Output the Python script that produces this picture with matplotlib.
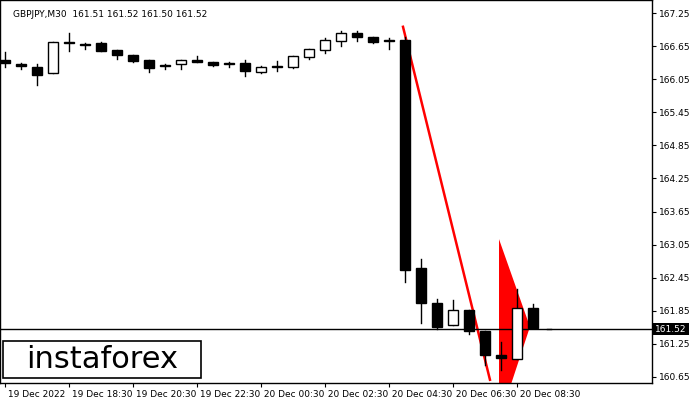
import matplotlib
matplotlib.use('Agg')
import matplotlib.pyplot as plt
from matplotlib.patches import Rectangle, Polygon

# candles, 30-minute bars (open, high, low, close)
opens  = [166.40, 166.33, 166.27, 166.16, 166.72, 166.67, 166.71, 166.58, 166.49, 166.40,
          166.29, 166.33, 166.40, 166.36, 166.33, 166.34, 166.18, 166.27, 166.27, 166.45,
          166.58, 166.74, 166.89, 166.82, 166.74, 166.76, 162.63, 161.99, 161.59, 161.86,
          161.48, 161.05, 160.98, 161.90, 161.52]
highs  = [166.54, 166.34, 166.33, 166.72, 166.89, 166.71, 166.72, 166.58, 166.49, 166.40,
          166.33, 166.40, 166.47, 166.36, 166.36, 166.40, 166.29, 166.38, 166.47, 166.60,
          166.80, 166.92, 166.92, 166.82, 166.80, 166.82, 162.79, 162.06, 162.05, 161.86,
          161.48, 161.28, 162.25, 161.97, 161.52]
lows   = [166.27, 166.23, 165.95, 166.16, 166.56, 166.60, 166.56, 166.42, 166.36, 166.18,
          166.23, 166.23, 166.36, 166.29, 166.27, 166.11, 166.16, 166.20, 166.25, 166.42,
          166.53, 166.65, 166.74, 166.71, 166.60, 162.37, 161.63, 161.52, 161.59, 161.43,
          160.87, 160.78, 160.98, 161.54, 161.52]
closes = [166.34, 166.29, 166.13, 166.72, 166.71, 166.67, 166.56, 166.49, 166.38, 166.25,
          166.29, 166.40, 166.36, 166.31, 166.33, 166.20, 166.27, 166.27, 166.47, 166.60,
          166.76, 166.89, 166.82, 166.72, 166.74, 162.59, 161.99, 161.56, 161.86, 161.48,
          161.05, 160.99, 161.90, 161.54, 161.52]

tick_idx = [0, 4, 8, 12, 16, 20, 24, 28, 32]
tick_labels = ["19 Dec 2022", "19 Dec 18:30", "19 Dec 20:30", "19 Dec 22:30", "20 Dec 00:30",
               "20 Dec 02:30", "20 Dec 04:30", "20 Dec 06:30", "20 Dec 08:30"]
price_ticks = [160.65, 161.25, 161.85, 162.45, 163.05, 163.65, 164.25, 164.85, 165.45,
               166.05, 166.65, 167.25]

# pattern overlay: pole line and flag
pole_x = [24.875, 30.31]
pole_y = [167.00, 160.60]
flag_x = [30.875, 32.81, 31.3, 30.875]
flag_y = [163.15, 161.56, 160.23, 160.23]
last_price = 161.52

fig = plt.figure(figsize=(7, 4), dpi=100)
ax = fig.add_axes([0, 17 / 400, 652 / 700, 383 / 400])
ax.set_xlim(-5 / 16, 647 / 16)
ax.set_ylim(160.541, 167.486)

ax.add_patch(Polygon(list(zip(flag_x, flag_y)), closed=True, color='red', lw=0, zorder=1))
ax.plot(pole_x, pole_y, color='red', lw=1.8, zorder=1)

w = 0.62
for i, (o, h, l, c) in enumerate(zip(opens, highs, lows, closes)):
    ax.plot([i, i], [l, h], color='black', lw=1, zorder=2)
    if i == len(opens) - 1:
        ax.plot([i - 0.15, i + 0.15], [c, c], color='black', lw=1, zorder=2)
        continue
    bottom = min(o, c)
    height = max(abs(c - o), 0.02)
    face = 'white' if c > o else 'black'
    ax.add_patch(Rectangle((i - w / 2, bottom), w, height, facecolor=face,
                           edgecolor='black', lw=1, zorder=3))

ax.axhline(last_price, color='black', lw=1, zorder=1)

ax.yaxis.tick_right()
ax.set_yticks(price_ticks)
ax.set_yticklabels([f"{p:.2f}" for p in price_ticks], fontsize=6.5)
ax.set_xticks(tick_idx)
ax.set_xticklabels([" " + t for t in tick_labels], fontsize=6.5, ha='left')
ax.tick_params(axis='both', length=3, pad=2)
for s in ax.spines.values():
    s.set_linewidth(1)

ax.text(0.02, 0.975, "GBPJPY,M30  161.51 161.52 161.50 161.52", transform=ax.transAxes,
        fontsize=6.5, va='top', ha='left')
ax.text(1.005, last_price, "161.52", transform=ax.get_yaxis_transform(), fontsize=6.5,
        va='center', ha='left', color='white',
        bbox=dict(boxstyle='square,pad=0.2', facecolor='black', edgecolor='none'))

# logo box
fig.patches.append(Rectangle((3 / 700, 22 / 400), 198 / 700, 37 / 400, transform=fig.transFigure,
                             facecolor='white', edgecolor='black', lw=1.2, zorder=5))
fig.text(102 / 700, 41 / 400, "instaforex", fontsize=22, ha='center', va='center', zorder=6)

fig.savefig("out.png", dpi=100)
